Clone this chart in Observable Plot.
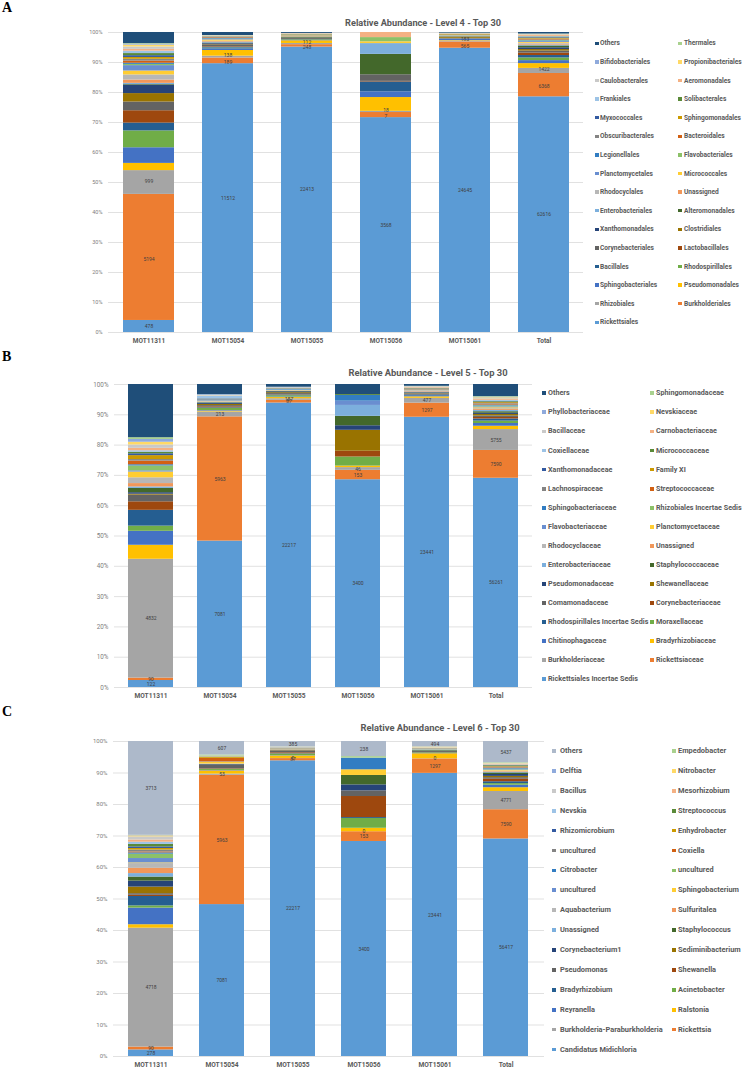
<!DOCTYPE html>
<html><head><meta charset="utf-8">
<script src="https://cdn.jsdelivr.net/npm/d3@7"></script>
<script src="https://cdn.jsdelivr.net/npm/@observablehq/plot@0.6"></script>
<style>
body{margin:0;background:#fff;}
#page{position:relative;width:748px;height:1068px;overflow:hidden;font-family:Roboto,"Noto Sans",sans-serif;background:#fff;}
.panel{position:absolute;left:0;}
.letter{position:absolute;left:2px;font-family:"Liberation Serif","DejaVu Serif",serif;font-weight:bold;font-size:14px;line-height:14px;color:#000;}
.title{position:absolute;transform:translate(-50%,-50%);white-space:nowrap;font-weight:bold;color:#595959;}
.sw{position:absolute;}
.lt{position:absolute;white-space:nowrap;color:#595959;font-weight:bold;transform:translateY(-50%);line-height:1;}
svg g[aria-label="x-axis tick label"] text{font-weight:bold;}
</style>
</head><body><div id="page"></div>
<script>
// ---------- shared ----------
const samples = ["MOT11311","MOT15054","MOT15055","MOT15056","MOT15061","Total"];
const yTicks = [0,0.1,0.2,0.3,0.4,0.5,0.6,0.7,0.8,0.9,1];
const palette = ["#5B9BD5","#ED7D31","#A5A5A5","#FFC000","#4472C4","#70AD47","#255E91","#9E480E","#636363","#997300",
  "#264478","#43682B","#7CAFDD","#F1975A","#B7B7B7","#FFCD33","#698ED0","#8CC168","#327DC2","#D26012",
  "#848484","#CC9A00","#335AA1","#5A8A39","#9DC3E6","#F4B183","#C9C9C9","#FFD966","#8FAADC","#A9D18E"];

// ---------- Level 4 ----------
const titleA = "Relative Abundance - Level 4 - Top 30";
const seriesA = ["Rickettsiales","Burkholderiales","Rhizobiales","Pseudomonadales","Sphingobacteriales","Rhodospirillales","Bacillales","Lactobacillales","Corynebacteriales","Clostridiales","Xanthomonadales","Alteromonadales","Enterobacteriales","Unassigned","Rhodocyclales","Micrococcales","Planctomycetales","Flavobacteriales","Legionellales","Bacteroidales","Obscuribacterales","Sphingomonadales","Myxococcales","Solibacterales","Frankiales","Aeromonadales","Caulobacterales","Propionibacteriales","Bifidobacteriales","Thermales","Others"];
const A_MOT11311 = [4.0,41.9,7.9,2.4,5.2,5.6,2.6,4.1,2.9,2.8,2.8,0.2,0.4,1.1,1.7,1.3,1.8,0.4,0.4,0.7,0.6,0.6,0.6,0.7,0.8,0.6,0.8,0.6,0.3,0.2,3.7];
const A_MOT15054 = [89.7,1.9,0.6,1.9,0.6,0.2,0.2,0.2,0.7,0.2,0.3,0.1,0.3,0.2,0.1,0.4,0.2,0.1,0.3,0.2,0.1,0.1,0.05,0.05,0.1,0.1,0.05,0.05,0.05,0.05,1.0];
const A_MOT15055 = [95.0,0.8,0.4,0.9,0.1,0.2,0.1,0.05,0.3,0.05,0.1,0.3,0.05,0.1,0.05,0.15,0.05,0.05,0.05,0.05,0.05,0.15,0.05,0.05,0.05,0.15,0.05,0.05,0.05,0.05,0.3];
const A_MOT15056 = [71.7,1.7,0.4,4.6,1.9,0,3.3,0.2,2.2,0,0,6.8,3.6,0,0,0.6,0,1.4,0,0,0,0,0,0,0,1.7,0,0,0,0,0];
const A_MOT15061 = [95.0,2.1,0.3,0.15,0.4,0.05,0.1,0.05,0.15,0.4,0.05,0.1,0.05,0.1,0.05,0.05,0.05,0.05,0.05,0.05,0.05,0.2,0.05,0.05,0.05,0.1,0.05,0.05,0.05,0.1,0.2];
const A_Total    = [78.8,7.8,1.7,1.6,1.0,0.9,0.8,0.8,0.7,0.5,0.6,0.6,0.3,0.3,0.3,0.3,0.3,0.2,0.2,0.2,0.2,0.3,0.2,0.2,0.2,0.3,0.2,0.1,0.1,0.1,0.5];
const labelSeriesA = [0,1,2];
const labelsA = [["478","5194","999"],["11512","189","138"],["22413","248","112"],["3568","7","18"],["24645","565","183"],["62616","6368","1422"]];

// ---------- Level 5 ----------
const titleB = "Relative Abundance - Level 5 - Top 30";
const seriesB = ["Rickettsiales Incertae Sedis","Rickettsiaceae","Burkholderiaceae","Bradyrhizobiaceae","Chitinophagaceae","Moraxellaceae","Rhodospirillales Incertae Sedis","Corynebacteriaceae","Comamonadaceae","Shewanellaceae","Pseudomonadaceae","Staphylococcaceae","Enterobacteriaceae","Unassigned","Rhodocyclaceae","Planctomycetaceae","Flavobacteriaceae","Rhizobiales Incertae Sedis","Sphingobacteriaceae","Streptococcaceae","Lachnospiraceae","Family XI","Xanthomonadaceae","Micrococcaceae","Coxiellaceae","Carnobacteriaceae","Bacillaceae","Nevskiaceae","Phyllobacteriaceae","Sphingomonadaceae","Others"];
const B_MOT11311 = [2.3,0.8,39.1,4.6,4.6,1.7,5.2,2.8,2.2,0.3,0.5,1.4,0.5,1.1,1.9,1.9,0.4,1.6,0.4,1.2,0.5,1.3,0.6,0.5,0.5,0.8,1.1,0.9,0.9,0.6,17.5];
const B_MOT15054 = [48.2,40.9,1.6,0.3,0.2,0.7,0.2,0.3,0.4,0.4,0.4,0.15,0.15,0.1,0.1,0.15,0.2,0.05,0.2,0.05,0.05,0.05,0.15,0.05,0.8,0.05,0.15,0.05,0.3,0.05,3.3];
const B_MOT15055 = [93.8,0.9,0.5,0.4,0.2,0.4,0.2,0.1,0.4,0.3,0.3,0.1,0.1,0.05,0.05,0.1,0.15,0.05,0.2,0.05,0.05,0.05,0.05,0.05,0.1,0.05,0.05,0.05,0.15,0.05,0.9];
const B_MOT15056 = [68.5,3.1,0.9,0.5,0,3.0,0,1.9,0,6.9,1.5,3.1,3.6,0,0,0,1.4,0,1.9,0,0,0,0,0.3,0,0,0,0,0,0,3.3];
const B_MOT15061 = [90.0,4.7,1.6,0.5,0.4,0.1,0.2,0.1,0.2,0.1,0.2,0.1,0.2,0.2,0.1,0.1,0.1,0.1,0.1,0.1,0.1,0.1,0.1,0.1,0.1,0.2,0.1,0.1,0.1,0.1,0.6];
const B_Total    = [69.2,9.2,6.9,1.1,0.9,0.8,0.7,0.5,0.5,0.5,0.4,0.5,0.4,0.3,0.3,0.3,0.3,0.3,0.3,0.3,0.2,0.3,0.2,0.2,0.3,0.3,0.3,0.3,0.2,0.2,4.0];
const labelSeriesB = [0,1,2];
const labelsB = [["122","90","4832"],["7081","5963","213"],["22217","87","187"],["3400","153","46"],["23441","1297","477"],["56261","7590","5755"]];

// ---------- Level 6 ----------
const titleC = "Relative Abundance - Level 6 - Top 30";
const seriesC = ["Candidatus Midichloria","Rickettsia","Burkholderia-Paraburkholderia","Ralstonia","Reyranella","Acinetobacter","Bradyrhizobium","Shewanella","Pseudomonas","Sediminibacterium","Corynebacterium1","Staphylococcus","Unassigned","Sulfuritalea","Aquabacterium","Sphingobacterium","uncultured","uncultured","Citrobacter","Coxiella","uncultured","Enhydrobacter","Rhizomicrobium","Streptococcus","Nevskia","Mesorhizobium","Bacillus","Nitrobacter","Delftia","Empedobacter","Others"];
const C_MOT11311 = [2.1,0.9,37.9,1.1,5.3,0.7,3.0,0.4,0.5,2.1,1.9,1.3,1.1,1.7,1.5,0.2,1.4,1.4,0.4,0.3,0.6,0.5,0.5,0.8,0.7,0.7,1.0,0.3,0.1,0.1,29.9];
const C_MOT15054 = [48.3,41.1,0.4,1.0,0.15,0.35,0.1,0.15,1.0,0.05,0.2,0.05,0.05,0.05,0.05,0.5,0.05,0.05,0.05,1.1,0.05,0.35,0.05,0.05,0.05,0.05,0.05,0.05,0.05,0.35,4.3];
const C_MOT15055 = [94.2,0.7,0.05,0.8,0.1,0.5,0.1,0.3,0.6,0.1,0.1,0.05,0.05,0.05,0.05,0.1,0.05,0.05,0.05,0.05,0.05,0.05,0.05,0.05,0.05,0.05,0.15,0.05,0.05,0.05,1.7];
const C_MOT15056 = [68.4,3.1,0,1.1,0,3.1,0.3,6.7,1.8,0,1.9,3.0,0,0,0,1.8,0,0,3.7,0,0,0,0,0,0,0,0,0,0,0.5,4.8];
const C_MOT15061 = [90.2,4.6,0.05,1.6,0.1,0.2,0.05,0.05,0.3,0.05,0.05,0.2,0.05,0.05,0.05,0.05,0.05,0.05,0.05,0.05,0.05,0.05,0.05,0.05,0.05,0.05,0.2,0.2,0.05,0.05,1.7];
const C_Total    = [69.2,9.3,5.8,1.2,0.8,0.5,0.6,0.8,0.5,0.4,0.6,0.5,0.2,0.2,0.2,0.2,0.2,0.2,0.2,0.2,0.2,0.2,0.2,0.2,0.15,0.15,0.2,0.15,0.1,0.15,6.7];
const labelSeriesC = [0,1,2,30];
const labelsC = [["278","90","4718","3713"],["7081","5963","53","607"],["22217","87","0","385"],["3400","153","0","238"],["23441","1297","0","494"],["56417","7590","4771","5437"]];

const othersA = "#1F4E79", othersB = "#1F4E79", othersC = "#ADB9CA";

// ---------- build ----------
const page = document.getElementById("page");
function el(tag, cls, style, text){const e=document.createElement(tag); if(cls) e.className=cls; Object.assign(e.style, style||{}); if(text!=null) e.textContent=text; page.appendChild(e); return e;}

function panel(cfg){
  const colors = palette.concat([cfg.others]);
  const rows = [];
  samples.forEach((s, si) => cfg.series.forEach((name, i) => {
    const li = cfg.labelSeries.indexOf(i);
    rows.push({sample: s, key: i, name, value: cfg.values[si][i], color: colors[i], label: li >= 0 ? cfg.labels[si][li] : ""});
  }));
  const lift = cfg.lift || [];   // series whose labels are nudged up (and the one below nudged down)
  const sink = cfg.sink || [];
  const stackText = (pick, dy) => Plot.text(rows, Plot.stackY({x: "sample", y: "value", z: "key",
    text: d => pick(d.key) ? d.label : "", offset: "normalize", fontSize: 5, fill: "#404040", dy}));
  const chart = Plot.plot({
    width: 748, height: cfg.height,
    marginTop: cfg.mt, marginBottom: cfg.mb, marginLeft: cfg.ml, marginRight: cfg.mr,
    style: {fontFamily: "Roboto, 'Noto Sans', sans-serif", background: "transparent"},
    x: {domain: samples, paddingInner: cfg.pad, paddingOuter: cfg.pad/2, axis: null},
    y: {domain: [0, 1], axis: null},
    color: {type: "identity"},
    marks: [
      Plot.gridY(yTicks, {stroke: "#d9d9d9", strokeOpacity: 1, strokeWidth: 0.8}),
      Plot.barY(rows, Plot.stackY({x: "sample", y: "value", z: "key", fill: "color", offset: "normalize"})),
      stackText(k => !lift.includes(k) && !sink.includes(k), 0),
      stackText(k => lift.includes(k), -1.6),
      stackText(k => sink.includes(k), 1.6),
      Plot.axisY({ticks: yTicks, tickSize: 0, tickPadding: 6, tickFormat: d3.format(".0%"), fontSize: cfg.yfs, color: "#808080", label: null}),
      Plot.axisX({tickSize: 0, tickPadding: 6, fontSize: cfg.xfs, color: "#595959", label: null})
    ]
  });
  const wrap = el("div", "panel", {top: cfg.top + "px"});
  wrap.appendChild(chart);
  el("div", "letter", {top: cfg.letterTop + "px"}, cfg.letter);
  el("div", "title", {left: cfg.tx + "px", top: cfg.ty + "px", fontSize: cfg.tfs + "px"}, cfg.title);
  const items = cfg.series.map((n, i) => ({n, c: colors[i]})).reverse();
  items.forEach((it, k) => {
    const row = Math.floor(k / 2), col = k % 2;
    const y = cfg.leg.y0 + row * cfg.leg.dy, x = cfg.leg.x[col];
    const s = cfg.leg.s;
    el("div", "sw", {left: x + "px", top: (y - s/2) + "px", width: s + "px", height: s + "px", background: it.c});
    el("div", "lt", {left: (x + cfg.leg.off[col]) + "px", top: y + "px", fontSize: cfg.leg.fs + "px"}, it.n);
  });
}

panel({letter: "A", letterTop: 1, title: titleA, tx: 423, ty: 22, tfs: 9.2, series: seriesA, others: othersA,
  values: [A_MOT11311, A_MOT15054, A_MOT15055, A_MOT15056, A_MOT15061, A_Total],
  labelSeries: labelSeriesA, labels: labelsA, lift: [2], sink: [1],
  top: 0, height: 348, mt: 32, mb: 16, ml: 108, mr: 165, pad: 0.358, yfs: 5.5, xfs: 6.5,
  leg: {x: [595, 678], off: [5, 6], y0: 43.3, dy: 18.6, s: 3.6, fs: 6.6}});

panel({letter: "B", letterTop: 350, title: titleB, tx: 428, ty: 372, tfs: 9.4, series: seriesB, others: othersB,
  values: [B_MOT11311, B_MOT15054, B_MOT15055, B_MOT15056, B_MOT15061, B_Total],
  labelSeries: labelSeriesB, labels: labelsB,
  top: 350, height: 356, mt: 34, mb: 19, ml: 114, mr: 216, pad: 0.353, yfs: 6.3, xfs: 6.6,
  leg: {x: [542, 650], off: [6, 6], y0: 393.3, dy: 19.07, s: 3.8, fs: 7.2}});

panel({letter: "C", letterTop: 705, title: titleC, tx: 440, ty: 727, tfs: 9.4, series: seriesC, others: othersC,
  values: [C_MOT11311, C_MOT15054, C_MOT15055, C_MOT15056, C_MOT15061, C_Total],
  labelSeries: labelSeriesC, labels: labelsC,
  top: 706, height: 362, mt: 35, mb: 12, ml: 113, mr: 204, pad: 0.36, yfs: 6.0, xfs: 6.6,
  leg: {x: [552, 672], off: [8, 6], y0: 751, dy: 19.9, s: 3.8, fs: 7.4}});
</script>
</body></html>
